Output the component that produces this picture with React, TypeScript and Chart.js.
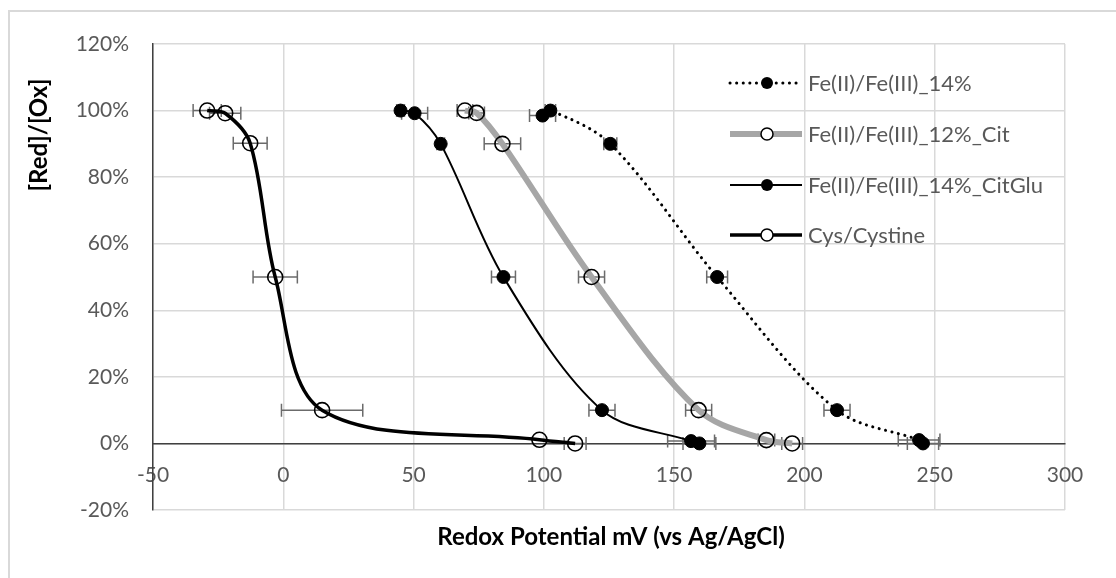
import React, { useEffect, useRef } from "react";
import { Chart, registerables } from "chart.js";

Chart.register(...registerables);

// ---------- data ----------
const seriesLabels = [
  "Fe(II)/Fe(III)_14%",
  "Fe(II)/Fe(III)_12%_Cit",
  "Fe(II)/Fe(III)_14%_CitGlu",
  "Cys/Cystine",
];

const fe14X = [99.5, 102.5, 125.5, 166.5, 212.5, 244, 245.5];
const fe14Y = [98.5, 100, 90, 50, 10, 1, 0];
const fe14Err = [5, 2, 2.5, 4, 5, 8, 6];

const citX = [69.7, 74.2, 84.1, 118.3, 159.4, 185.4, 195.3];
const citY = [100, 99.3, 90, 50, 10, 1, 0];
const citErr = [3, 3, 7, 5, 5, 3.2, 4];

const citGluX = [45, 50.4, 60.4, 84.5, 122.3, 156.5, 159.7];
const citGluY = [100, 99.2, 90, 50, 10, 0.7, 0];
const citGluErr = [1.5, 5, 1.5, 4.6, 5, 9, 6.3];

const cysX = [-29.2, -22.3, -12.7, -3.1, 14.9, 98.3, 112];
const cysY = [100, 99.2, 90.2, 50, 10, 1.1, 0];
const cysErr = [5.4, 6, 6.5, 8.5, 15.6, 0, 4.2];

const xTicks = [-50, 0, 50, 100, 150, 200, 250, 300];
const yTicks = [-20, 0, 20, 40, 60, 80, 100, 120];

const xTitle = "Redox Potential mV (vs Ag/AgCl)";
const yTitle = "[Red]/[Ox]";

const FONT = "Lato, 'Open Sans', sans-serif";
const TICK_COLOR = "#595959";
const GRID_COLOR = "#d9d9d9";
const AXIS_COLOR = "#404040";

function pts(xs: number[], ys: number[]) {
  return xs.map((x, i) => ({ x, y: ys[i] }));
}

const errors = [fe14Err, citErr, citGluErr, cysErr];

const errorBarPlugin = {
  id: "errorBars",
  beforeDatasetsDraw(chart: any) {
    const { ctx, scales } = chart;
    const xs = scales.x;
    const ys = scales.y;
    ctx.save();
    ctx.strokeStyle = "#6b6b6b";
    ctx.lineWidth = 1.5;
    chart.data.datasets.forEach((ds: any, di: number) => {
      const err = errors[di];
      ds.data.forEach((p: any, i: number) => {
        const e = err[i];
        if (!e) return;
        const x0 = xs.getPixelForValue(p.x - e);
        const x1 = xs.getPixelForValue(p.x + e);
        const y = ys.getPixelForValue(p.y);
        ctx.beginPath();
        ctx.moveTo(x0, y);
        ctx.lineTo(x1, y);
        ctx.moveTo(x0, y - 6.5);
        ctx.lineTo(x0, y + 6.5);
        ctx.moveTo(x1, y - 6.5);
        ctx.lineTo(x1, y + 6.5);
        ctx.stroke();
      });
    });
    ctx.restore();
  },
};

const legendPlugin = {
  id: "customLegend",
  afterDraw(chart: any) {
    const { ctx } = chart;
    ctx.save();
    const x0 = 730;
    const x1 = 802;
    const mx = 767;
    const tops = [83, 134, 185, 235];
    chart.data.datasets.forEach((ds: any, i: number) => {
      const y = tops[i];
      ctx.save();
      ctx.strokeStyle = ds.borderColor;
      ctx.lineWidth = ds.borderWidth;
      ctx.lineCap = ds.borderCapStyle || "butt";
      ctx.setLineDash(ds.borderDash || []);
      ctx.beginPath();
      ctx.moveTo(x0, y);
      ctx.lineTo(x1, y);
      ctx.stroke();
      ctx.restore();
      ctx.beginPath();
      ctx.arc(mx, y, 6, 0, Math.PI * 2);
      if (ds.pointBackgroundColor === "#000000") {
        ctx.fillStyle = "#000000";
        ctx.fill();
      } else {
        ctx.fillStyle = "#ffffff";
        ctx.fill();
        ctx.strokeStyle = "#000000";
        ctx.lineWidth = 1.5;
        ctx.stroke();
      }
      ctx.fillStyle = TICK_COLOR;
      ctx.font = `22px ${FONT}`;
      ctx.textAlign = "left";
      ctx.textBaseline = "middle";
      ctx.fillText(ds.label, 808, y + 1);
    });
    ctx.restore();
  },
};

const titlePlugin = {
  id: "axisTitles",
  afterDraw(chart: any) {
    const { ctx } = chart;
    ctx.save();
    ctx.fillStyle = "#000000";
    ctx.font = `bold 24px ${FONT}`;
    ctx.textAlign = "center";
    ctx.textBaseline = "middle";
    ctx.fillText(xTitle, 611, 537);
    ctx.translate(39, 135);
    ctx.rotate(-Math.PI / 2);
    ctx.fillText(yTitle, 0, 0);
    ctx.restore();
  },
};

export default function App() {
  const ref = useRef<HTMLCanvasElement | null>(null);

  useEffect(() => {
    if (!ref.current) return;
    const chart = new Chart(ref.current, {
      type: "scatter",
      data: {
        datasets: [
          {
            label: seriesLabels[0],
            data: pts(fe14X, fe14Y),
            showLine: true,
            borderColor: "#000000",
            borderWidth: 3,
            borderDash: [0.1, 6.5],
            borderCapStyle: "round",
            tension: 0.33,
            pointRadius: 6.5,
            pointBackgroundColor: "#000000",
            pointBorderColor: "#000000",
            pointBorderWidth: 1,
          },
          {
            label: seriesLabels[1],
            data: pts(citX, citY),
            showLine: true,
            borderColor: "#a6a6a6",
            borderWidth: 6,
            tension: 0.33,
            pointRadius: 7.5,
            pointBackgroundColor: "rgba(0,0,0,0)",
            pointBorderColor: "#000000",
            pointBorderWidth: 1.6,
          },
          {
            label: seriesLabels[2],
            data: pts(citGluX, citGluY),
            showLine: true,
            borderColor: "#000000",
            borderWidth: 2,
            tension: 0.33,
            pointRadius: 6.5,
            pointBackgroundColor: "#000000",
            pointBorderColor: "#000000",
            pointBorderWidth: 1,
          },
          {
            label: seriesLabels[3],
            data: pts(cysX, cysY),
            showLine: true,
            borderColor: "#000000",
            borderWidth: 3.5,
            tension: 0.33,
            pointRadius: 7.5,
            pointBackgroundColor: "rgba(0,0,0,0)",
            pointBorderColor: "#000000",
            pointBorderWidth: 1.6,
          },
        ],
      },
      options: {
        responsive: false,
        animation: false,
        layout: { padding: { left: 0, top: 44, right: 51, bottom: 68 } },
        plugins: {
          legend: { display: false },
          tooltip: { enabled: false },
        },
        scales: {
          x: {
            type: "linear",
            position: { y: 0 },
            min: -50,
            max: 300,
            afterBuildTicks: (s: any) => {
              s.ticks = xTicks.map((v) => ({ value: v }));
            },
            grid: { color: GRID_COLOR, lineWidth: 1.5, drawTicks: false },
            border: { color: AXIS_COLOR, width: 1.5 },
            ticks: {
              color: TICK_COLOR,
              font: { family: FONT, size: 21 },
              padding: 19,
            },
          },
          y: {
            type: "linear",
            min: -20,
            max: 120,
            afterBuildTicks: (s: any) => {
              s.ticks = yTicks.map((v) => ({ value: v }));
            },
            afterFit: (s: any) => {
              s.width = 153;
            },
            grid: { color: GRID_COLOR, lineWidth: 1.5, drawTicks: false },
            border: { color: AXIS_COLOR, width: 1.5 },
            ticks: {
              color: TICK_COLOR,
              font: { family: FONT, size: 21 },
              padding: 24,
              callback: (v: any) => `${v}%`,
            },
          },
        },
      },
      plugins: [errorBarPlugin, legendPlugin, titlePlugin],
    } as any);
    return () => chart.destroy();
  }, []);

  return (
    <div style={{ position: "fixed", left: 0, top: 0, width: 1116, height: 578, background: "#ffffff", overflow: "hidden" }}>
      <div
        style={{
          position: "absolute",
          left: 8,
          top: 10,
          width: 1300,
          height: 800,
          borderLeft: "2px solid #d9d9d9",
          borderTop: "2px solid #d9d9d9",
        }}
      />
      <canvas ref={ref} width={1116} height={578} style={{ position: "absolute", left: 0, top: 0, width: 1116, height: 578 }} />
    </div>
  );
}
